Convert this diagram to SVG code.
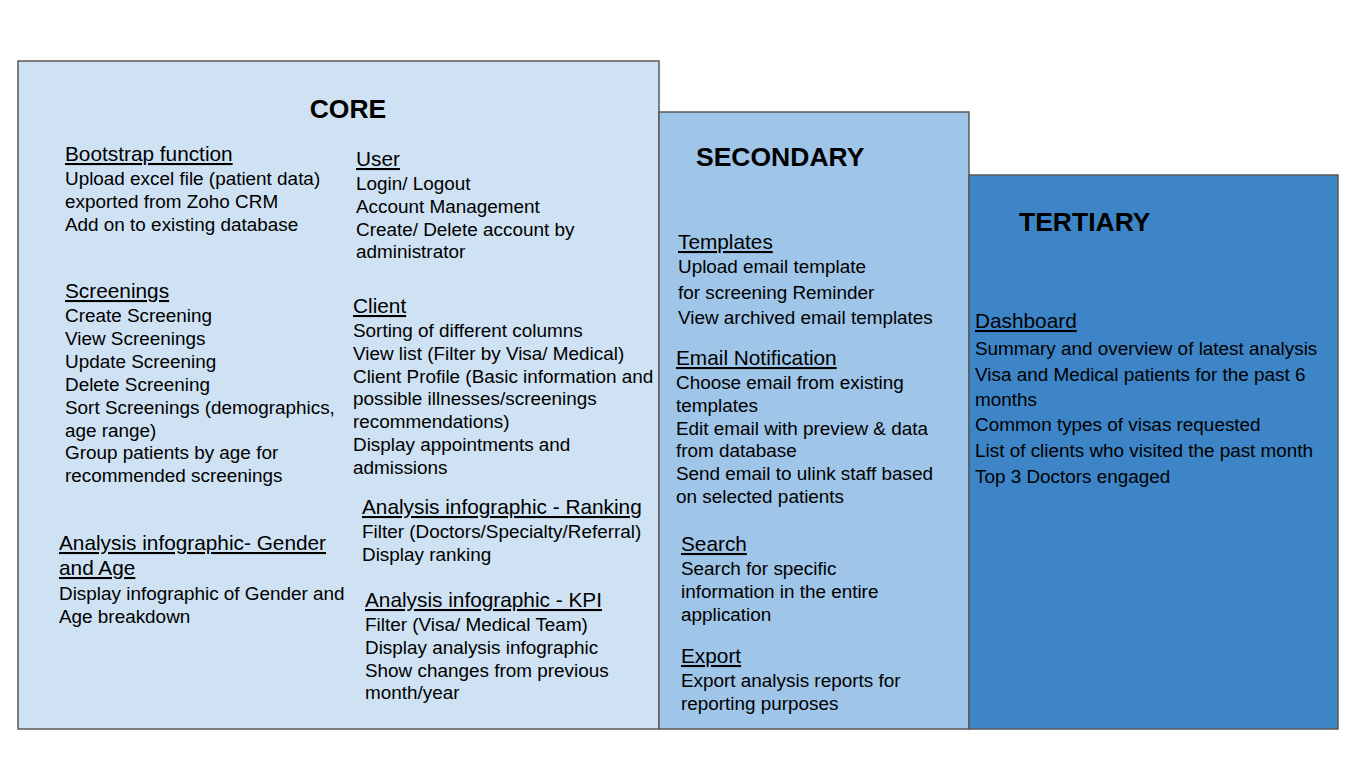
<svg xmlns="http://www.w3.org/2000/svg" width="1366" height="768" viewBox="0 0 1366 768">
<style>
text{font-family:"Liberation Sans",Arial,sans-serif;fill:#000}
.t{font-size:26.5px;font-weight:bold}
.h{font-size:20.8px;text-decoration:underline}
.b{font-size:18.9px}
.box{stroke:#595959;stroke-width:1.5}
</style>
<rect x="0" y="0" width="1366" height="768" fill="#ffffff"/>
<g id="core">
<rect class="box" x="18" y="61" width="641" height="668" fill="#cfe2f3"/>
<text class="t" x="348" y="118" text-anchor="middle">CORE</text>
<text class="h" x="65" y="161">Bootstrap function</text>
<text class="b" x="65" y="185">Upload excel file (patient data)</text>
<text class="b" x="65" y="208">exported from Zoho CRM</text>
<text class="b" x="65" y="231">Add on to existing database</text>
<text class="h" x="65" y="298">Screenings</text>
<text class="b" x="65" y="322">Create Screening</text>
<text class="b" x="65" y="345">View Screenings</text>
<text class="b" x="65" y="368">Update Screening</text>
<text class="b" x="65" y="391">Delete Screening</text>
<text class="b" x="65" y="414">Sort Screenings (demographics,</text>
<text class="b" x="65" y="437">age range)</text>
<text class="b" x="65" y="459">Group patients by age for</text>
<text class="b" x="65" y="482">recommended screenings</text>
<text class="h" x="59" y="550">Analysis infographic- Gender</text>
<text class="h" x="59" y="575">and Age</text>
<text class="b" x="59" y="600">Display infographic of Gender and</text>
<text class="b" x="59" y="623">Age breakdown</text>
<text class="h" x="356" y="166">User</text>
<text class="b" x="356" y="190">Login/ Logout</text>
<text class="b" x="356" y="213">Account Management</text>
<text class="b" x="356" y="236">Create/ Delete account by</text>
<text class="b" x="356" y="258">administrator</text>
<text class="h" x="353" y="313">Client</text>
<text class="b" x="353" y="337">Sorting of different columns</text>
<text class="b" x="353" y="360">View list (Filter by Visa/ Medical)</text>
<text class="b" x="353" y="383">Client Profile (Basic information and</text>
<text class="b" x="353" y="405">possible illnesses/screenings</text>
<text class="b" x="353" y="428">recommendations)</text>
<text class="b" x="353" y="451">Display appointments and</text>
<text class="b" x="353" y="474">admissions</text>
<text class="h" x="362" y="514">Analysis infographic - Ranking</text>
<text class="b" x="362" y="538">Filter (Doctors/Specialty/Referral)</text>
<text class="b" x="362" y="561">Display ranking</text>
<text class="h" x="365" y="607">Analysis infographic - KPI</text>
<text class="b" x="365" y="631">Filter (Visa/ Medical Team)</text>
<text class="b" x="365" y="654">Display analysis infographic</text>
<text class="b" x="365" y="677">Show changes from previous</text>
<text class="b" x="365" y="699">month/year</text>
</g>
<g id="secondary">
<rect class="box" x="659" y="112" width="310" height="617" fill="#9fc5e8"/>
<text class="t" x="696" y="166">SECONDARY</text>
<text class="h" x="678" y="249">Templates</text>
<text class="b" x="678" y="273">Upload email template</text>
<text class="b" x="678" y="299">for screening Reminder</text>
<text class="b" x="678" y="324">View archived email templates</text>
<text class="h" x="676" y="365">Email Notification</text>
<text class="b" x="676" y="389">Choose email from existing</text>
<text class="b" x="676" y="412">templates</text>
<text class="b" x="676" y="435">Edit email with preview &amp; data</text>
<text class="b" x="676" y="457">from database</text>
<text class="b" x="676" y="480">Send email to ulink staff based</text>
<text class="b" x="676" y="503">on selected patients</text>
<text class="h" x="681" y="551">Search</text>
<text class="b" x="681" y="575">Search for specific</text>
<text class="b" x="681" y="598">information in the entire</text>
<text class="b" x="681" y="621">application</text>
<text class="h" x="681" y="663">Export</text>
<text class="b" x="681" y="687">Export analysis reports for</text>
<text class="b" x="681" y="710">reporting purposes</text>
</g>
<g id="tertiary">
<rect class="box" x="969" y="175" width="369" height="554" fill="#3d85c6"/>
<text class="t" x="1019" y="231">TERTIARY</text>
<text class="h" x="975" y="328">Dashboard</text>
<text class="b" x="975" y="355">Summary and overview of latest analysis</text>
<text class="b" x="975" y="381">Visa and Medical patients for the past 6</text>
<text class="b" x="975" y="406">months</text>
<text class="b" x="975" y="431">Common types of visas requested</text>
<text class="b" x="975" y="457">List of clients who visited the past month</text>
<text class="b" x="975" y="483">Top 3 Doctors engaged</text>
</g>
<g id="connectors"/>
</svg>
